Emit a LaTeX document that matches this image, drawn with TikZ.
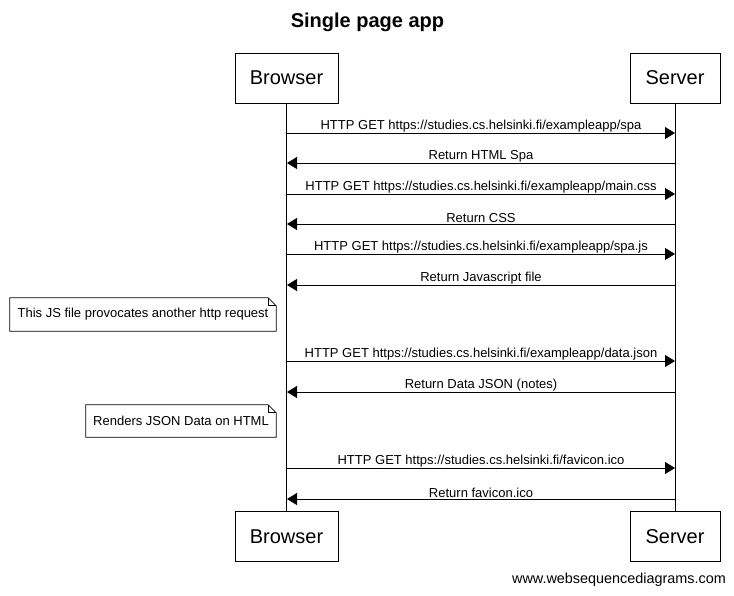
\documentclass[tikz,border=0pt]{standalone}
\usepackage{fontspec}
\setmainfont{Liberation Sans}
\usetikzlibrary{arrows.meta}
\begin{document}
\begin{tikzpicture}[x=1pt,y=-1pt,
  actor/.style={draw,line width=0.8pt,minimum height=50pt,inner sep=0pt,font=\fontsize{20}{24}\selectfont},
  msg/.style={line width=0.8pt,-{Triangle[length=10pt,width=12pt]}},
  lbl/.style={font=\fontsize{13}{15}\selectfont,inner sep=0pt},
  notebox/.style={inner sep=0pt,font=\fontsize{13}{15}\selectfont,minimum height=33pt},
  noteline/.style={line width=0.8pt}
]
\useasboundingbox (0,0) rectangle (734,595);
\node[font=\bfseries\fontsize{20}{24}\selectfont] (title) at (367.5,22) {Single page app};
\node[actor,minimum width=103pt] (bt) at (286.5,78) {Browser};
\node[actor,minimum width=90pt] (st) at (675,78) {Server};
\node[actor,minimum width=103pt] (bb) at (286.5,536.5) {Browser};
\node[actor,minimum width=90pt] (sb) at (675,536.5) {Server};
\draw[line width=0.8pt] (bt.south) -- (bb.north);
\draw[line width=0.8pt] (st.south) -- (sb.north);
% lifeline coordinates
\foreach \n/\y in {1/133,2/163,3/194,4/224,5/254,6/285,7/361,8/392,9/468,10/499}{
  \coordinate (b\n) at (287,\y);
  \coordinate (s\n) at (675,\y);
}
\draw[msg] (b1) -- node[lbl,above=0.5pt] {HTTP GET https://studies.cs.helsinki.fi/exampleapp/spa} (s1);
\draw[msg] (s2) -- node[lbl,above=0.5pt] {Return HTML Spa} (b2);
\draw[msg] (b3) -- node[lbl,above=0.5pt] {HTTP GET https://studies.cs.helsinki.fi/exampleapp/main.css} (s3);
\draw[msg] (s4) -- node[lbl,above=0.5pt] {Return CSS} (b4);
\draw[msg] (b5) -- node[lbl,above=0.5pt] {HTTP GET https://studies.cs.helsinki.fi/exampleapp/spa.js} (s5);
\draw[msg] (s6) -- node[lbl,above=0.5pt] {Return Javascript file} (b6);
\draw[msg] (b7) -- node[lbl,above=0.5pt] {HTTP GET https://studies.cs.helsinki.fi/exampleapp/data.json} (s7);
\draw[msg] (s8) -- node[lbl,above=0.5pt] {Return Data JSON (notes)} (b8);
\draw[msg] (b9) -- node[lbl,above=0.5pt] {HTTP GET https://studies.cs.helsinki.fi/favicon.ico} (s9);
\draw[msg] (s10) -- node[lbl,above=0.5pt] {Return favicon.ico} (b10);
% notes
\node[notebox,minimum width=266pt] (n1) at (143,314.5) {This JS file provocates another http request};
\draw[noteline] (n1.north west) -- ([xshift=-8pt]n1.north east) -- ([yshift=-8pt]n1.north east) -- (n1.south east) -- (n1.south west) -- cycle;
\draw[noteline] ([xshift=-8pt]n1.north east) |- ([yshift=-8pt]n1.north east);
\node[notebox,minimum width=190pt,minimum height=32pt] (n2) at (181,421) {Renders JSON Data on HTML};
\draw[noteline] (n2.north west) -- ([xshift=-8pt]n2.north east) -- ([yshift=-8pt]n2.north east) -- (n2.south east) -- (n2.south west) -- cycle;
\draw[noteline] ([xshift=-8pt]n2.north east) |- ([yshift=-8pt]n2.north east);
\node[font=\fontsize{14.4}{17}\selectfont,anchor=east,inner sep=0pt] (wsd) at (726,580) {www.websequencediagrams.com};
\end{tikzpicture}
\end{document}
